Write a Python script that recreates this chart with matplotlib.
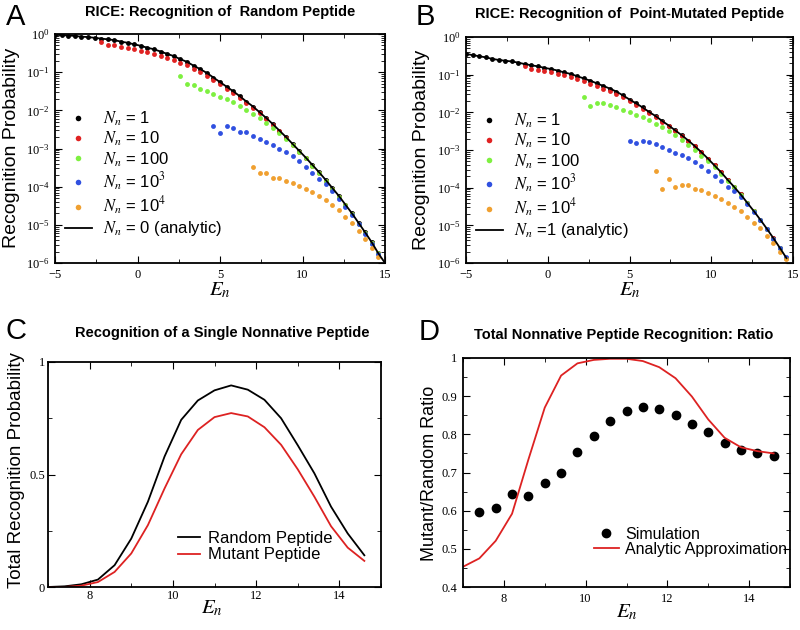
import matplotlib
matplotlib.use('Agg')
import matplotlib.pyplot as plt
import numpy as np
from matplotlib.ticker import MultipleLocator, LogLocator, LogFormatterMathtext, NullFormatter, FuncFormatter

plt.rcParams['font.family'] = ['Liberation Sans', 'DejaVu Sans']
plt.rcParams['mathtext.fontset'] = 'stix'

# ---------------- data ----------------
E_GRID = [-5.0, -4.6, -4.2, -3.8, -3.4, -3.0, -2.6, -2.2, -1.8, -1.4,
          -1.0, -0.6, -0.2, 0.2, 0.6, 1.0, 1.4, 1.8, 2.2, 2.6,
          3.0, 3.4, 3.8, 4.2, 4.6, 5.0, 5.4, 5.8, 6.2, 6.6,
          7.0, 7.4, 7.8, 8.2, 8.6, 9.0, 9.4, 9.8, 10.2, 10.6,
          11.0, 11.4, 11.8, 12.2, 12.6, 13.0, 13.4, 13.8, 14.2, 14.6]

# Panel A: log10 recognition probability (random peptide)
A_N1 = [-0.02, -0.03, -0.04, -0.05, -0.07, -0.08, -0.10, -0.12, -0.14, -0.16,
        -0.20, -0.23, -0.27, -0.31, -0.36, -0.40, -0.46, -0.52, -0.58, -0.66,
        -0.73, -0.83, -0.92, -1.02, -1.14, -1.26, -1.38, -1.50, -1.63, -1.77,
        -1.90, -2.05, -2.20, -2.36, -2.53, -2.70, -2.88, -3.06, -3.24, -3.43,
        -3.62, -3.82, -4.03, -4.24, -4.47, -4.70, -4.95, -5.20, -5.46, -5.75]
A_N10 = [-0.22, -0.30, -0.30, -0.34, -0.37, -0.40, -0.44, -0.48, -0.52, -0.57,
         -0.63, -0.69, -0.75, -0.82, -0.91, -1.00, -1.10, -1.21, -1.32, -1.43,
         -1.55, -1.68, -1.81, -1.94, -2.08, -2.23, -2.39, -2.55, -2.72, -2.90,
         -3.08, -3.26, -3.45, -3.64, -3.84, -4.05, -4.26, -4.49, -4.72, -4.97,
         -5.22, -5.48, -5.75]
A_N100 = [-1.11, -1.31, -1.34, -1.43, -1.49, -1.56, -1.64, -1.70, -1.79, -1.89,
          -1.99, -2.10, -2.21, -2.33, -2.47, -2.60, -2.75, -2.91, -3.08, -3.26,
          -3.45, -3.64, -3.84, -4.05, -4.26, -4.49, -4.72, -4.97, -5.22, -5.48, -5.75]
A_N1000 = [-2.42, -2.60, -2.42, -2.47, -2.58, -2.58, -2.67, -2.75, -2.83, -2.90,
           -3.01, -3.09, -3.20, -3.33, -3.48, -3.63, -3.79, -3.92, -4.12, -4.33,
           -4.54, -4.75, -4.99, -5.23, -5.49, -5.76]
A_N10000 = [-3.48, -3.63, -3.63, -3.77, -3.77, -3.85, -3.90, -3.98, -4.05, -4.14,
            -4.25, -4.36, -4.48, -4.62, -4.79, -4.96, -5.16, -5.38, -5.60, -5.83]
A_LINE_E = E_GRID + [15.0]
A_LINE = A_N1 + [-6.0]

# Panel B: log10 recognition probability (point-mutated peptide)
B_N1 = [-0.45, -0.48, -0.51, -0.54, -0.58, -0.61, -0.63, -0.65, -0.68, -0.72,
        -0.75, -0.78, -0.82, -0.85, -0.89, -0.94, -0.98, -1.04, -1.10, -1.16,
        -1.23, -1.30, -1.37, -1.45, -1.55, -1.66, -1.76, -1.87, -1.99, -2.10,
        -2.23, -2.35, -2.48, -2.61, -2.75, -2.90, -3.06, -3.23, -3.41, -3.59,
        -3.79, -3.98, -4.18, -4.40, -4.62, -4.85, -5.09, -5.34, -5.60, -5.87]
B_N10 = [-0.77, -0.85, -0.88, -0.91, -0.94, -0.98, -1.02, -1.07, -1.12, -1.18,
         -1.24, -1.30, -1.37, -1.44, -1.51, -1.60, -1.70, -1.80, -1.90, -2.01,
         -2.12, -2.25, -2.37, -2.49, -2.62, -2.76, -2.90, -3.06, -3.23, -3.41,
         -3.59, -3.79, -3.98, -4.18, -4.40, -4.62, -4.85, -5.09, -5.34, -5.60, -5.87]
B_N100 = [-1.58, -1.83, -1.74, -1.76, -1.81, -1.86, -1.94, -2.00, -2.06, -2.13,
          -2.21, -2.30, -2.39, -2.49, -2.61, -2.74, -2.87, -3.01, -3.15, -3.30,
          -3.46, -3.63, -3.81, -3.99, -4.19, -4.41, -4.63, -4.86, -5.10, -5.35,
          -5.61, -5.88]
B_N1000 = [-2.75, -2.82, -2.75, -2.80, -2.84, -2.93, -3.00, -3.07, -3.13, -3.22,
           -3.32, -3.42, -3.55, -3.68, -3.82, -3.97, -4.10, -4.26, -4.43, -4.65,
           -4.87, -5.10, -5.35, -5.60, -5.85]
B_N10000 = [-3.55, -4.03, -3.77, -3.97, -3.92, -3.94, -4.03, -4.07, -4.13, -4.22,
            -4.29, -4.40, -4.51, -4.63, -4.78, -4.93, -5.08, -5.29, -5.48, -5.70, -5.89]
B_LINE = list(B_N1)

# Panel C
E_C = [7.0, 7.4, 7.8, 8.2, 8.6, 9.0, 9.4, 9.8, 10.2, 10.6,
       11.0, 11.4, 11.8, 12.2, 12.6, 13.0, 13.4, 13.8, 14.2, 14.6]
C_RANDOM = [0.0, 0.003, 0.012, 0.033, 0.097, 0.215, 0.379, 0.58, 0.743, 0.829,
            0.874, 0.896, 0.877, 0.832, 0.75, 0.63, 0.505, 0.357, 0.238, 0.141]
C_MUTANT = [0.0, 0.0, 0.006, 0.022, 0.067, 0.149, 0.275, 0.438, 0.59, 0.698,
            0.755, 0.773, 0.758, 0.71, 0.632, 0.523, 0.401, 0.27, 0.175, 0.116]

# Panel D
E_D_SIM = [7.4, 7.8, 8.2, 8.6, 9.0, 9.4, 9.8, 10.2, 10.6,
           11.0, 11.4, 11.8, 12.2, 12.6, 13.0, 13.4, 13.8, 14.2, 14.6]
D_SIM = [0.596, 0.606, 0.644, 0.639, 0.672, 0.700, 0.755, 0.796, 0.835,
         0.860, 0.871, 0.867, 0.850, 0.828, 0.805, 0.778, 0.759, 0.751, 0.742]
E_D_AN = [7.0, 7.4, 7.8, 8.2, 8.6, 9.0, 9.4, 9.8, 10.2, 10.6,
          11.0, 11.4, 11.8, 12.2, 12.6, 13.0, 13.4, 13.8, 14.2, 14.6]
D_AN = [0.453, 0.475, 0.521, 0.592, 0.734, 0.870, 0.954, 0.986, 0.995, 0.998,
        0.998, 0.992, 0.976, 0.947, 0.899, 0.839, 0.791, 0.766, 0.756, 0.750]

COLORS = ['black', '#e02222', '#7ef040', '#3050e0', '#f0a030']
LABELS_A = ['$N_n$ = 1', '$N_n$ = 10', '$N_n$ = 100', '$N_n$ = 10$^3$', '$N_n$ = 10$^4$',
            '$N_n$ = 0 (analytic)']
LABELS_B = ['$N_n$ = 1', '$N_n$ = 10', '$N_n$ = 100', '$N_n$ = 10$^3$', '$N_n$ = 10$^4$',
            '$N_n$ =1 (analytic)']

# ---------------- figure ----------------
W, H = 800, 630
fig = plt.figure(figsize=(8, 6.3), dpi=100)


def axrect(x0, y0, x1, y1):
    return [x0 / W, 1 - y1 / H, (x1 - x0) / W, (y1 - y0) / H]


def style(ax, pad=4):
    ax.tick_params(which='both', direction='in', top=True, right=True,
                   labelfontfamily='Liberation Serif', labelsize=9, pad=pad)
    ax.tick_params(which='major', length=5, width=0.8)
    ax.tick_params(which='minor', length=3, width=0.6)
    for s in ax.spines.values():
        s.set_linewidth(1.3)


def log_panel(ax, series, line_e, line_v, labels):
    for (vals, c) in zip(series, COLORS):
        xs = E_GRID[-len(vals):]
        ax.plot(xs, [10 ** v for v in vals], 'o', ms=3.5, color=c, ls='none', mec='none')
    ax.plot(line_e, [10 ** v for v in line_v], '-', color='black', lw=1.3)
    ax.set_yscale('log')
    ax.set_xlim(-5, 15)
    ax.set_ylim(1e-6, 1)
    ax.xaxis.set_major_locator(MultipleLocator(5))
    ax.xaxis.set_minor_locator(MultipleLocator(2.5))
    ax.yaxis.set_major_locator(LogLocator(base=10, numticks=10))
    ax.yaxis.set_minor_locator(LogLocator(base=10, subs=np.arange(2, 10), numticks=20))
    ax.yaxis.set_major_formatter(LogFormatterMathtext())
    ax.yaxis.set_minor_formatter(NullFormatter())
    style(ax)
    handles = []
    for c in COLORS:
        h, = ax.plot([], [], 'o', ms=4, color=c, ls='none', mec='none')
        handles.append(h)
    hl, = ax.plot([], [], '-', color='black', lw=1.3)
    handles.append(hl)
    ax.legend(handles, labels, loc='upper left', bbox_to_anchor=(0.01, 0.70),
              frameon=False, fontsize=12, handlelength=1.6, handletextpad=0.7,
              labelspacing=0.12, borderaxespad=0)


# Panel A
axA = fig.add_axes(axrect(55, 34, 385, 263))
log_panel(axA, [A_N1, A_N10, A_N100, A_N1000, A_N10000], A_LINE_E, A_LINE, LABELS_A)

# Panel B
axB = fig.add_axes(axrect(466, 37, 793, 263))
log_panel(axB, [B_N1, B_N10, B_N100, B_N1000, B_N10000], E_GRID, B_LINE, LABELS_B)

# Panel C
axC = fig.add_axes(axrect(48, 362, 381, 587))
axC.plot(E_C, C_RANDOM, '-', color='black', lw=1.3, label='Random Peptide')
axC.plot(E_C, C_MUTANT, '-', color='#dd2222', lw=1.3, label='Mutant Peptide')
axC.set_xlim(7, 15)
axC.set_ylim(0, 1)
axC.xaxis.set_major_locator(MultipleLocator(2))
axC.xaxis.set_minor_locator(MultipleLocator(1))
axC.yaxis.set_major_locator(MultipleLocator(0.5))
axC.yaxis.set_minor_locator(MultipleLocator(0.25))
axC.yaxis.set_major_formatter(FuncFormatter(lambda v, p: '0' if v == 0 else ('1' if v == 1 else f'{v:g}')))
style(axC, pad=2)
axC.legend(loc='upper left', bbox_to_anchor=(0.37, 0.28), frameon=False, fontsize=12,
           handlelength=1.3, handletextpad=0.5, labelspacing=0.1, borderaxespad=0)

# Panel D
axD = fig.add_axes(axrect(463, 358, 790, 587))
axD.plot(E_D_SIM, D_SIM, 'o', ms=6, color='black', ls='none', label='Simulation')
axD.plot(E_D_AN, D_AN, '-', color='#dd2222', lw=1.3, label='Analytic Approximation')
axD.set_xlim(7, 15)
axD.set_ylim(0.4, 1)
axD.xaxis.set_major_locator(MultipleLocator(2))
axD.xaxis.set_minor_locator(MultipleLocator(1))
axD.yaxis.set_major_locator(MultipleLocator(0.1))
axD.yaxis.set_minor_locator(MultipleLocator(0.05))
axD.yaxis.set_major_formatter(FuncFormatter(lambda v, p: '1' if abs(v - 1) < 1e-9 else f'{v:.1f}'))
style(axD)
axD.legend(loc='upper left', bbox_to_anchor=(0.38, 0.29), frameon=False, fontsize=11.5,
           handlelength=1.6, handletextpad=0.35, labelspacing=0.0, borderaxespad=0)

# Titles, panel letters, axis labels
def ftext(x, y, s, **kw):
    fig.text(x / W, 1 - y / H, s, **kw)

ftext(220, 12, 'RICE: Recognition of  Random Peptide', ha='center', va='center', fontsize=10.5, fontweight='bold')
ftext(630, 14, 'RICE: Recognition of  Point-Mutated Peptide', ha='center', va='center', fontsize=10.5, fontweight='bold')
ftext(222, 333, 'Recognition of a Single Nonnative Peptide', ha='center', va='center', fontsize=10.5, fontweight='bold')
ftext(624, 335, 'Total Nonnative Peptide Recognition: Ratio', ha='center', va='center', fontsize=10.5, fontweight='bold')

for (x, y, s) in [(16, 17, 'A'), (425, 17, 'B'), (16, 331, 'C'), (429, 332, 'D')]:
    ftext(x, y, s, ha='center', va='center', fontsize=21)

ftext(12, 148, 'Recognition Probability', rotation=90, ha='center', va='center', fontsize=14)
ftext(422, 150, 'Recognition Probability', rotation=90, ha='center', va='center', fontsize=14)
ftext(17, 470, 'Total Recognition Probability', rotation=90, ha='center', va='center', fontsize=13.5)
ftext(429, 473, 'Mutant/Random Ratio', rotation=90, ha='center', va='center', fontsize=13)

ftext(220, 290, '$E_n$', ha='center', va='center', fontsize=15)
ftext(630, 290, '$E_n$', ha='center', va='center', fontsize=15)
ftext(212, 608, '$E_n$', ha='center', va='center', fontsize=15)
ftext(627, 612, '$E_n$', ha='center', va='center', fontsize=15)

fig.savefig('out.png', dpi=100)
